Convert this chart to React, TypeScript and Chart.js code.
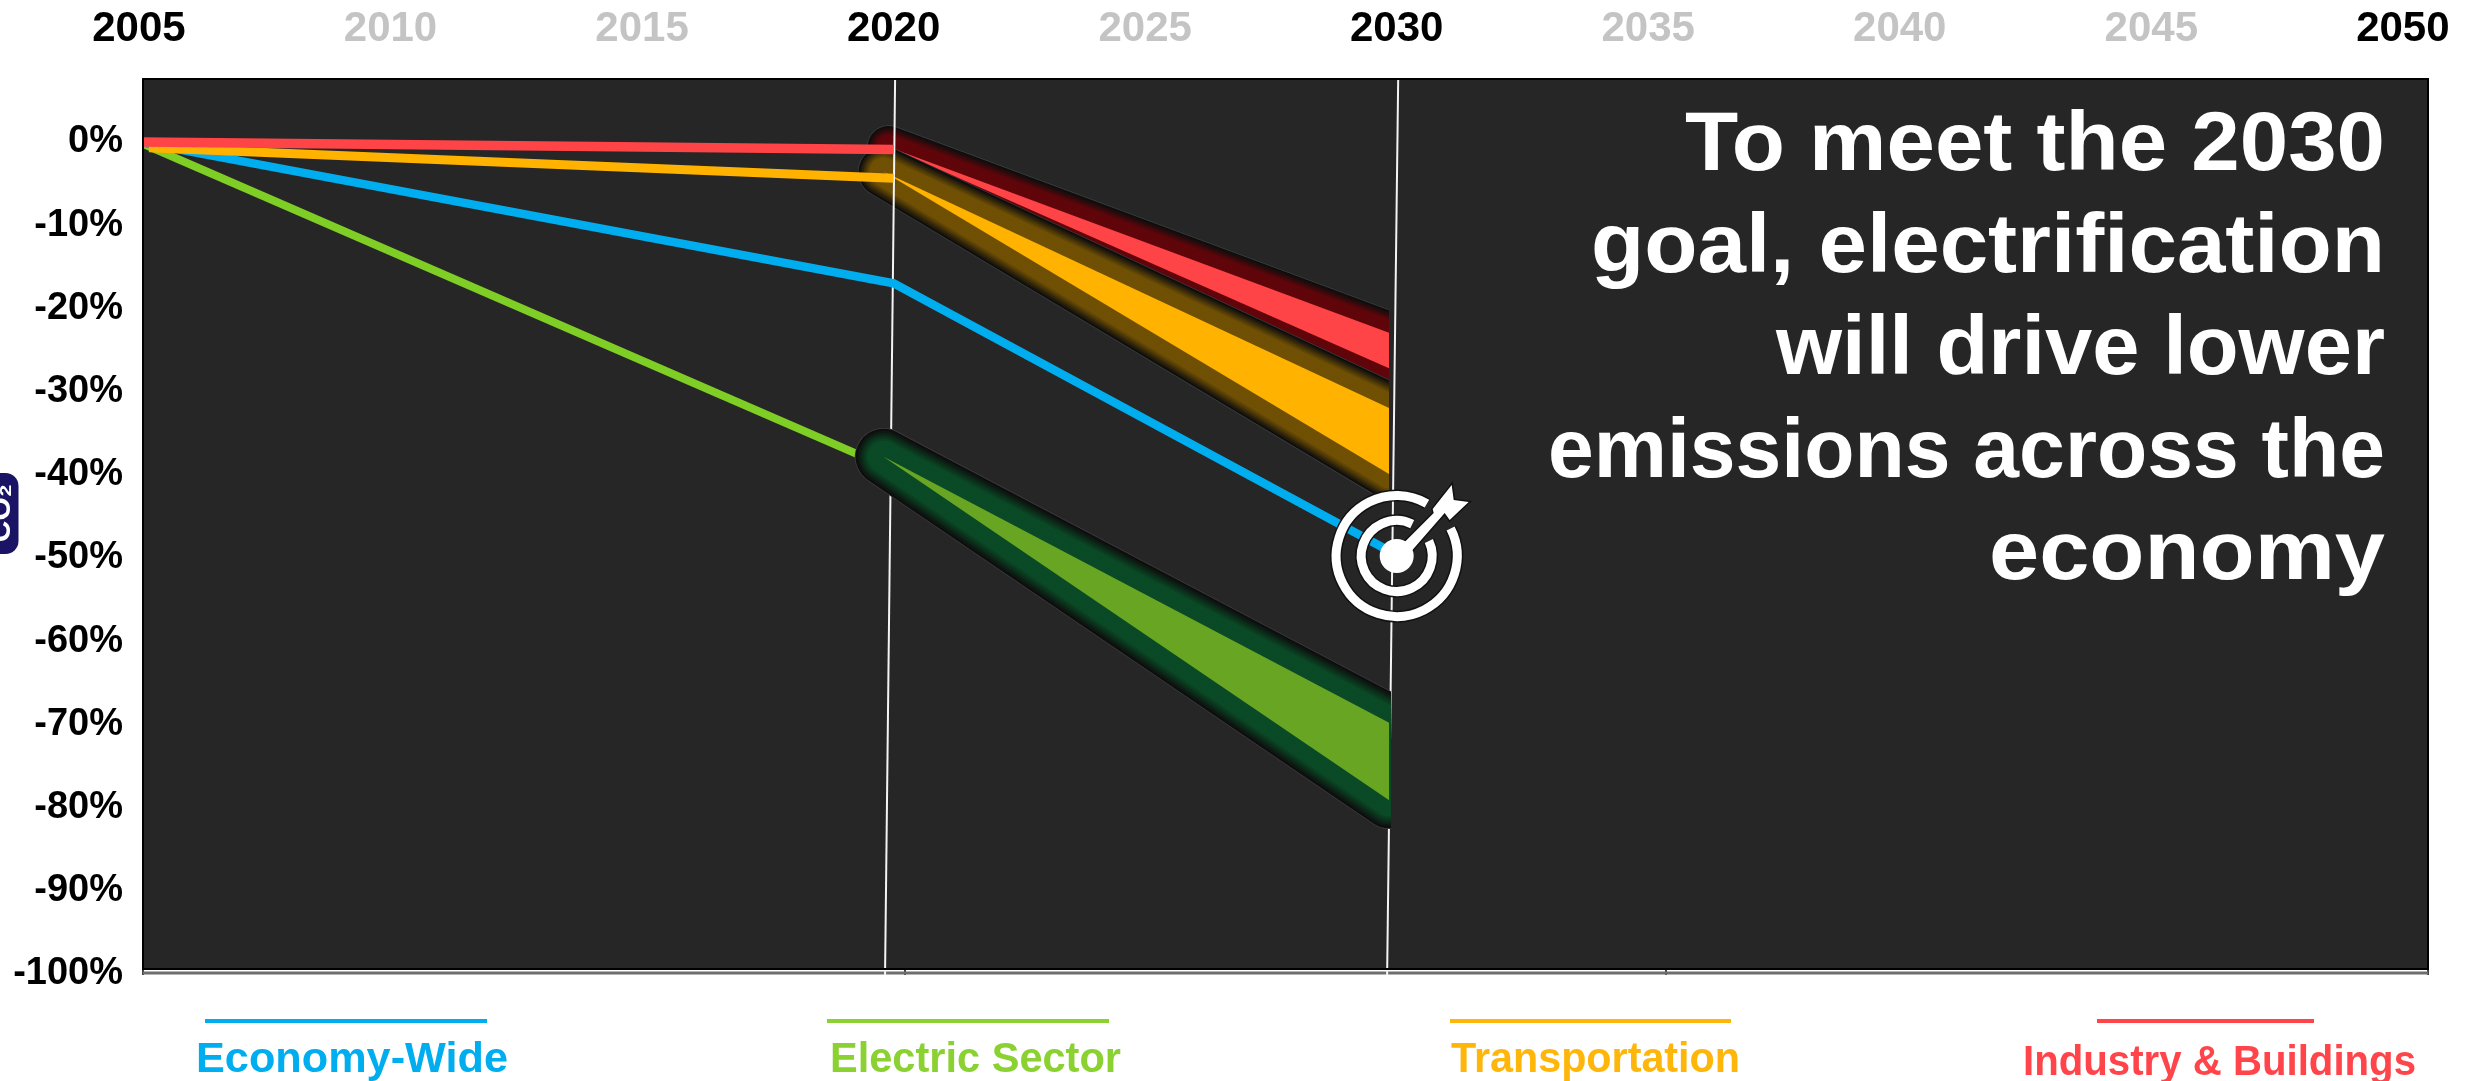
import React, { useEffect, useRef } from "react";
import { Chart, registerables } from "chart.js";

Chart.register(...registerables);

const yearTicks = [2005, 2010, 2015, 2020, 2025, 2030, 2035, 2040, 2045, 2050];
const boldYears = [2005, 2020, 2030, 2050];
const percentTicks = [0, -10, -20, -30, -40, -50, -60, -70, -80, -90, -100];
const axisTickYears = [2005, 2020, 2035, 2050];

const economyWide = [{ x: 2005, y: 0 }, { x: 2020, y: -17.1 }, { x: 2030, y: -50 }];
const electricHistory = [{ x: 2005, y: 0 }, { x: 2020, y: -39.7 }];
const transportHistory = [{ x: 2005.2, y: -0.7 }, { x: 2020, y: -4.4 }];
const industryHistory = [{ x: 2005, y: 0 }, { x: 2020, y: -0.9 }];

const electricStart = { x: 2019.8, y: -38.1 };
const transportStart = { x: 2019.8, y: -3.6 };
const industryStart = { x: 2019.9, y: -0.6 };
const endYear = 2029.85;
const electricEnd = [-70.3, -79.7];
const transportEnd = [-32.2, -40.2];
const industryEnd = [-23.1, -27.4];

const marker2020 = [{ x: 2020.03, y: 7.63 }, { x: 2019.83, y: -100.85 }];
const marker2030 = [{ x: 2030.03, y: 7.63 }, { x: 2029.81, y: -100.85 }];
const baseLine = [{ x: 2005, y: -100.62 }, { x: 2050, y: -100.62 }];
const targetPoint = { x: 2030, y: -50 };

const titleLines = ["To meet the 2030", "goal, electrification", "will drive lower", "emissions across the", "economy"];
const legendNames = ["Economy-Wide", "Electric Sector", "Transportation", "Industry & Buildings"];
const legendColors = ["#00aeef", "#8bd131", "#ffb60a", "#ff444a"];

const BLUE = "#00aeef";
const GREEN = "#7fce26";
const ORANGE = "#ffb200";
const RED = "#ff4447";

function mix(a: number[], b: number[], t: number) {
  const c = a.map((v, i) => Math.round(v + (b[i] - v) * t));
  return `rgb(${c[0]},${c[1]},${c[2]})`;
}

function band(start: any, end: number[], fillColor: string, glow: number[], radius: number, clipRight: number) {
  const outline = [start, { x: endYear, y: end[0] }, { x: endYear, y: end[1] }, start];
  const common = {
    type: "line",
    xAxisID: "x",
    yAxisID: "yData",
    pointRadius: 0,
    tension: 0,
    clip: { left: 200, top: 0, right: clipRight, bottom: 0 },
  };
  const dark = [14, 14, 14];
  const layers: any[] = [];
  layers.push({
    ...common,
    data: outline,
    borderColor: "#3f3f3f",
    borderWidth: radius * 2 + 1.5,
    borderJoinStyle: "round",
    borderCapStyle: "round",
    fill: false,
  });
  const steps = 14;
  for (let i = 0; i < steps; i++) {
    const t = Math.min(1, i / (steps * 0.42));
    layers.push({
      ...common,
      data: outline,
      borderColor: mix(dark, glow, t),
      borderWidth: (radius * 2 * (steps - i)) / steps,
      borderJoinStyle: "round",
      borderCapStyle: "round",
      fill: false,
    });
  }
  layers.push({
    ...common,
    data: [start, { x: endYear, y: end[1] }],
    borderWidth: 0,
    borderColor: fillColor,
    fill: false,
  });
  layers.push({
    ...common,
    data: [start, { x: endYear, y: end[0] }],
    borderWidth: 0,
    borderColor: fillColor,
    backgroundColor: fillColor,
    fill: "+1",
  });
  return layers;
}

function historyLine(data: any[], color: string, width: number) {
  return {
    type: "line",
    xAxisID: "x",
    yAxisID: "yData",
    data,
    borderColor: color,
    borderWidth: width,
    borderCapStyle: "butt",
    pointRadius: 0,
    tension: 0,
    fill: false,
  };
}

function markerLine(data: any[]) {
  return {
    type: "line",
    xAxisID: "x",
    yAxisID: "yData",
    data,
    borderColor: "#f4f4f4",
    borderWidth: 2,
    pointRadius: 0,
    tension: 0,
    fill: false,
    clip: { left: 0, top: 0, right: 0, bottom: 10 },
  };
}

function fitText(ctx: any, text: string, x: number, y: number, width: number) {
  const w = ctx.measureText(text).width;
  ctx.save();
  ctx.translate(x, y);
  ctx.scale(width / w, 1);
  ctx.fillText(text, 0, 0);
  ctx.restore();
}

const framePlugin = {
  id: "frame",
  beforeDatasetsDraw(chart: any) {
    const { ctx, chartArea: a } = chart;
    ctx.save();
    ctx.fillStyle = "#262626";
    ctx.fillRect(a.left, a.top, a.right - a.left, a.bottom - a.top);
    ctx.restore();
  },
  afterDraw(chart: any) {
    const { ctx, chartArea: a } = chart;
    ctx.save();
    ctx.strokeStyle = "#000000";
    ctx.lineWidth = 2;
    ctx.strokeRect(a.left, a.top, a.right - a.left, a.bottom - a.top + 1);

    // Headline
    const titleWidths = [700, 794, 609, 837, 396];
    ctx.fillStyle = "#ffffff";
    ctx.font = "bold 83px 'Liberation Sans'";
    ctx.textAlign = "left";
    ctx.textBaseline = "alphabetic";
    titleLines.forEach((l, i) => fitText(ctx, l, 2385 - titleWidths[i], 170 + i * 102.2, titleWidths[i]));

    // Legend
    const lineSpans = [[205, 487], [827, 1109], [1450, 1731], [2097, 2314]];
    const textLeft = [196, 830, 1451, 2023];
    const textWidth = [312, 291, 289, 393];
    const textBase = [1072, 1072, 1072, 1075];
    ctx.font = "bold 42px 'Liberation Sans'";
    legendNames.forEach((n, i) => {
      ctx.fillStyle = legendColors[i];
      ctx.fillRect(lineSpans[i][0], 1019, lineSpans[i][1] - lineSpans[i][0], 4);
      fitText(ctx, n, textLeft[i], textBase[i], textWidth[i]);
    });

    // CO2 tag
    ctx.fillStyle = "#1b1464";
    ctx.beginPath();
    ctx.roundRect(-30, 473, 48.5, 81, 13);
    ctx.fill();
    ctx.save();
    ctx.translate(10, 513);
    ctx.rotate(-Math.PI / 2);
    ctx.fillStyle = "#ffffff";
    ctx.font = "bold 30px 'Liberation Sans'";
    ctx.textAlign = "center";
    ctx.textBaseline = "alphabetic";
    ctx.fillText("CO\u2082", 0, 0);
    ctx.restore();

    // Target icon
    const cx = chart.scales.x.getPixelForValue(targetPoint.x);
    const cy = chart.scales.yData.getPixelForValue(targetPoint.y) + 1;
    const ring = (r: number, w: number, a0: number, a1: number) => {
      ctx.beginPath();
      ctx.arc(cx, cy, r, a0, a1);
      ctx.strokeStyle = "#111111";
      ctx.lineWidth = w + 3;
      ctx.lineCap = "butt";
      ctx.stroke();
      ctx.strokeStyle = "#ffffff";
      ctx.lineWidth = w;
      ctx.stroke();
    };
    const rad = (d: number) => (d * Math.PI) / 180;
    ring(60.5, 9, rad(-27), rad(300));
    ring(35.5, 9, rad(-25), rad(296));
    const arrow = () => {
      ctx.beginPath();
      ctx.moveTo(cx + 6, cy - 12);
      ctx.lineTo(cx + 37, cy - 43);
      ctx.lineTo(cx + 36, cy - 47);
      ctx.lineTo(cx + 55, cy - 71);
      ctx.lineTo(cx + 57, cy - 56);
      ctx.lineTo(cx + 72, cy - 54);
      ctx.lineTo(cx + 53, cy - 36);
      ctx.lineTo(cx + 48, cy - 43);
      ctx.lineTo(cx + 14, cy - 4);
      ctx.closePath();
    };
    ctx.lineJoin = "miter";
    arrow();
    ctx.strokeStyle = "#111111";
    ctx.lineWidth = 3;
    ctx.stroke();
    ctx.fillStyle = "#ffffff";
    arrow();
    ctx.fill();
    ctx.beginPath();
    ctx.arc(cx, cy, 17, 0, Math.PI * 2);
    ctx.fillStyle = "#ffffff";
    ctx.fill();
    ctx.restore();
  },
};

export default function App() {
  const ref = useRef<HTMLCanvasElement | null>(null);
  useEffect(() => {
    document.body.style.margin = "0";
    // Chart.js paints the last array entry first, so list top-most marks first.
    const topFirst = [
      historyLine(industryHistory, RED, 9.5),
      historyLine(transportHistory, ORANGE, 9),
      historyLine(economyWide, BLUE, 8.5),
      ...band(electricStart, electricEnd, "#68a523", [10, 74, 38], 28, -1037).reverse(),
      historyLine(electricHistory, GREEN, 8),
      markerLine(marker2030),
      markerLine(marker2020),
      ...band(transportStart, transportEnd, ORANGE, [112, 80, 4], 25, -1039).reverse(),
      ...band(industryStart, industryEnd, RED, [96, 6, 10], 21, -1039).reverse(),
      {
        type: "line",
        xAxisID: "xBase",
        yAxisID: "yData",
        data: baseLine,
        borderColor: "#6e6e6e",
        borderWidth: 3,
        pointRadius: 0,
        fill: false,
        clip: { left: 0, top: 0, right: 0, bottom: 10 },
      },
    ];
    const chart = new Chart(ref.current as any, {
      type: "line",
      plugins: [framePlugin],
      data: { datasets: topFirst as any },
      options: {
        animation: false,
        responsive: false,
        events: [],
        layout: { padding: { left: 0, top: 0, right: 48, bottom: 1081 - 968 - 8 } },
        plugins: { legend: { display: false }, tooltip: { enabled: false }, title: { display: false } },
        scales: {
          x: {
            type: "linear",
            position: "top",
            min: 2005.08,
            max: 2050.5,
            grid: { display: false },
            border: { display: false },
            afterBuildTicks: (s: any) => {
              s.ticks = yearTicks.map((v) => ({ value: v }));
            },
            afterFit: (s: any) => {
              s.height = 79;
            },
            ticks: {
              autoSkip: false,
              maxRotation: 0,
              minRotation: 0,
              padding: 16,
              callback: (v: any) => String(v),
              color: (c: any) => (boldYears.includes(c.tick.value) ? "#000000" : "#c4c4c4"),
              font: { family: "'Liberation Sans'", weight: "bold", size: 42 },
            },
          },
          xBase: {
            type: "linear",
            position: "bottom",
            min: 2005,
            max: 2050,
            grid: { display: true, drawOnChartArea: false, drawTicks: true, tickLength: 7, tickColor: "#444444", lineWidth: 2 },
            border: { display: false },
            afterBuildTicks: (s: any) => {
              s.ticks = axisTickYears.map((v) => ({ value: v }));
            },
            afterFit: (s: any) => {
              s.height = 8;
            },
            ticks: { display: false },
          },
          y: {
            type: "linear",
            position: "left",
            min: -99.28,
            max: 7.57,
            grid: { display: false },
            border: { display: false },
            afterBuildTicks: (s: any) => {
              s.ticks = percentTicks.map((v) => ({ value: v }));
            },
            afterFit: (s: any) => {
              s.width = 143;
            },
            ticks: {
              autoSkip: false,
              padding: 12,
              callback: (v: any) => `${v}%`,
              color: "#000000",
              font: { family: "'Liberation Sans'", weight: "bold", size: 38 },
            },
          },
          yData: {
            type: "linear",
            display: false,
            min: -100,
            max: 7.63,
          },
        },
      } as any,
    });
    return () => chart.destroy();
  }, []);
  return <canvas ref={ref} width={2476} height={1081} style={{ display: "block", width: 2476, height: 1081 }} />;
}
